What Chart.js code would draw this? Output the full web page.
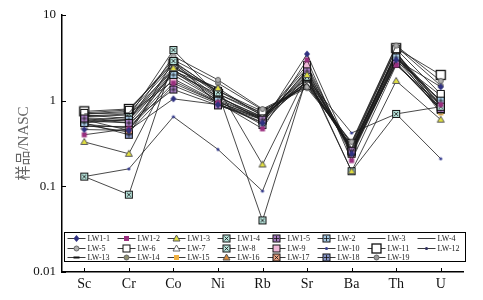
<!DOCTYPE html>
<html>
<head>
<meta charset="utf-8">
<script src="https://cdn.jsdelivr.net/npm/chart.js"></script>
<style>
  html, body { margin: 0; padding: 0; background: #fff; }
  #wrap { width: 483px; height: 300px; }
</style>
</head>
<body>
<div id="wrap"><canvas id="chartNasc" width="483" height="300"></canvas></div>
<script>
// Elementos normalizados a NASC
const elementos = ['Sc', 'Cr', 'Co', 'Ni', 'Rb', 'Sr', 'Ba', 'Th', 'U'];
const ticksY = [0.01, 0.1, 1, 10];

const muestras = ['LW1-1', 'LW1-2', 'LW1-3', 'LW1-4', 'LW1-5', 'LW-2', 'LW-3', 'LW-4',
                  'LW-5', 'LW-6', 'LW-7', 'LW-8', 'LW-9', 'LW-10', 'LW-11', 'LW-12',
                  'LW-13', 'LW-14', 'LW-15', 'LW-16', 'LW-17', 'LW-18', 'LW-19'];

// valores (Sc, Cr, Co, Ni, Rb, Sr, Ba, Th, U)
const lw1_1 = [0.46, 0.45, 1.05, 0.90, 0.55, 3.5, 0.24, 3.0, 1.45];
const lw1_2 = [0.40, 0.47, 1.6, 0.95, 0.47, 3.0, 0.20, 2.6, 0.90];
const lw1_3 = [0.33, 0.24, 2.4, 1.4, 0.18, 2.0, 0.15, 1.7, 0.60];
const lw1_4 = [0.13, 0.08, 2.9, 1.25, 0.04, 1.9, 0.15, 0.70, 0.85];
const lw1_5 = [0.62, 0.55, 1.35, 0.88, 0.60, 2.2, 0.26, 2.7, 0.80];
const lw_2  = [0.55, 0.60, 2.0, 1.0, 0.52, 2.0, 0.25, 3.2, 1.0];
const lw_3  = [0.70, 0.72, 2.6, 1.1, 0.65, 1.8, 0.28, 3.6, 0.95];
const lw_4  = [0.65, 0.68, 2.3, 1.05, 0.62, 1.6, 0.27, 3.4, 0.88];
const lw_5  = [0.60, 0.58, 3.3, 1.75, 0.80, 1.45, 0.33, 4.4, 1.7];
const lw_6  = [0.72, 0.78, 2.8, 1.3, 0.75, 1.5, 0.30, 4.0, 1.2];
const lw_7  = [0.50, 0.50, 2.1, 1.2, 0.68, 1.55, 0.29, 3.5, 0.90];
const lw_8  = [0.57, 0.65, 3.9, 1.15, 0.58, 1.7, 0.27, 3.1, 1.0];
const lw_9  = [0.66, 0.70, 1.7, 0.95, 0.63, 2.6, 0.24, 2.9, 1.15];
const lw_10 = [0.13, 0.16, 0.65, 0.27, 0.088, 1.8, 0.42, 0.70, 0.21];
const lw_11 = [0.75, 0.80, 2.7, 1.2, 0.72, 1.8, 0.31, 4.1, 2.0];
const lw_12 = [0.52, 0.43, 1.5, 0.92, 0.56, 2.3, 0.23, 2.8, 0.78];
const lw_13 = [0.53, 0.48, 1.8, 0.97, 0.60, 2.1, 0.25, 3.0, 0.82];
const lw_14 = [0.58, 0.55, 2.2, 1.4, 0.66, 1.65, 0.28, 3.7, 0.75];
const lw_15 = [0.68, 0.62, 2.45, 1.3, 0.70, 1.65, 0.29, 3.3, 0.72];
const lw_16 = [0.63, 0.60, 2.3, 1.1, 0.64, 1.7, 0.27, 3.4, 0.80];
const lw_17 = [0.60, 0.45, 2.2, 1.0, 0.64, 2.4, 0.26, 3.6, 0.85];
const lw_18 = [0.55, 0.40, 2.9, 0.90, 0.62, 2.0, 0.26, 2.7, 0.78];
const lw_19 = [0.70, 0.75, 3.0, 1.6, 0.78, 1.4, 0.32, 4.3, 1.5];

const valores = [lw1_1, lw1_2, lw1_3, lw1_4, lw1_5, lw_2, lw_3, lw_4, lw_5, lw_6, lw_7, lw_8,
                 lw_9, lw_10, lw_11, lw_12, lw_13, lw_14, lw_15, lw_16, lw_17, lw_18, lw_19];

// tipo de marcador y color para cada muestra
const marcadores = ['diamond', 'square', 'triangle', 'boxX', 'boxPlus', 'boxPlus', 'none', 'none',
                    'circle', 'box', 'triOpen', 'boxX', 'boxFill', 'dot', 'bigBox', 'dot',
                    'dash', 'circle', 'square', 'triangle', 'boxX', 'boxPlus', 'circle'];
const coloresMarcador = ['#2f3180', '#9a2f7e', '#e2e040', '#b8e4dc', '#a67cc0', '#a8cbe6', '#000', '#000',
                         '#b0b0b0', '#ffffff', '#bbbbbb', '#b8e4dc', '#f0b8d8', '#3a4090', '#ffffff', '#303060',
                         '#111111', '#8e8e6e', '#f0b040', '#d88a3a', '#e8a080', '#8896c8', '#9a9a9a'];

// Función para dibujar un marcador
function dibujarMarcador(g, tipo, color, x, y) {
    g.save();
    g.lineWidth = 1;
    g.strokeStyle = '#111';
    g.fillStyle = color;
    if (tipo === 'diamond') {
        g.beginPath();
        g.moveTo(x, y - 3.5); g.lineTo(x + 3, y); g.lineTo(x, y + 3.5); g.lineTo(x - 3, y);
        g.closePath(); g.fill();
    } else if (tipo === 'square') {
        g.fillRect(x - 2.5, y - 2.5, 5, 5);
    } else if (tipo === 'triangle' || tipo === 'triOpen') {
        g.beginPath();
        g.moveTo(x, y - 3.5); g.lineTo(x + 3.5, y + 2.5); g.lineTo(x - 3.5, y + 2.5);
        g.closePath();
        if (tipo === 'triangle') { g.fill(); g.strokeStyle = '#555'; g.stroke(); }
        else { g.fillStyle = '#fff'; g.fill(); g.strokeStyle = '#666'; g.stroke(); }
    } else if (tipo === 'boxX' || tipo === 'boxPlus' || tipo === 'box' || tipo === 'boxFill') {
        g.fillRect(x - 3.5, y - 3.5, 7, 7);
        g.strokeRect(x - 3.5, y - 3.5, 7, 7);
        g.beginPath();
        if (tipo === 'boxX') {
            g.moveTo(x - 2, y - 2); g.lineTo(x + 2, y + 2);
            g.moveTo(x + 2, y - 2); g.lineTo(x - 2, y + 2);
        } else if (tipo === 'boxPlus') {
            g.moveTo(x, y - 2.5); g.lineTo(x, y + 2.5);
            g.moveTo(x - 2.5, y); g.lineTo(x + 2.5, y);
        }
        g.lineWidth = 0.8;
        g.stroke();
    } else if (tipo === 'bigBox') {
        g.fillRect(x - 4.5, y - 4.5, 9, 9);
        g.lineWidth = 1.3;
        g.strokeRect(x - 4.5, y - 4.5, 9, 9);
    } else if (tipo === 'circle') {
        g.beginPath(); g.arc(x, y, 2.5, 0, Math.PI * 2);
        g.fill(); g.strokeStyle = '#666'; g.stroke();
    } else if (tipo === 'dot') {
        g.beginPath(); g.arc(x, y, 1.6, 0, Math.PI * 2); g.fill();
    } else if (tipo === 'dash') {
        g.fillRect(x - 3, y - 1, 6, 2);
    }
    g.restore();
}

// Crear imagen de marcador para pointStyle
function crearMarcador(tipo, color) {
    if (tipo === 'none') return false;
    const c = document.createElement('canvas');
    c.width = 12; c.height = 12;
    dibujarMarcador(c.getContext('2d'), tipo, color, 6, 6);
    return c;
}

// Plugin: marcas de eje hacia dentro y leyenda dentro del área
const pluginEjes = {
    id: 'ejesLeyenda',
    afterDraw(chart) {
        const ctx = chart.ctx;
        const ca = chart.chartArea;
        const sx = chart.scales.x, sy = chart.scales.y;
        ctx.save();
        ctx.strokeStyle = '#000';
        ctx.lineWidth = 1;
        ctx.beginPath();
        ticksY.forEach(v => {
            const y = Math.round(sy.getPixelForValue(v)) + 0.5;
            ctx.moveTo(ca.left, y); ctx.lineTo(ca.left + 4, y);
        });
        elementos.forEach((e, i) => {
            const x = Math.round(sx.getPixelForValue(i)) + 0.5;
            ctx.moveTo(x, ca.bottom); ctx.lineTo(x, ca.bottom - 4);
        });
        ctx.stroke();

        // leyenda
        const x0 = ca.left + 2.5, y0 = ca.bottom - 39.5;
        const ancho = ca.right - ca.left, alto = 29;
        ctx.fillStyle = '#fff';
        ctx.fillRect(x0, y0, ancho, alto);
        ctx.lineWidth = 1;
        ctx.strokeRect(x0, y0, ancho, alto);
        ctx.font = '8px "Liberation Serif", serif';
        ctx.textBaseline = 'middle';
        muestras.forEach((m, i) => {
            const col = i % 8, fila = Math.floor(i / 8);
            const x = x0 + 3 + col * 50;
            const y = Math.round(y0 + 5.5 + fila * 9.5) + 0.5;
            ctx.strokeStyle = '#222';
            ctx.lineWidth = 0.9;
            ctx.beginPath(); ctx.moveTo(x, y); ctx.lineTo(x + 18, y); ctx.stroke();
            dibujarMarcador(ctx, marcadores[i], coloresMarcador[i], x + 9, y);
            ctx.fillStyle = '#222';
            ctx.fillText(m, x + 20, y + 0.5);
        });
        ctx.restore();
    }
};

// Función para crear el gráfico
function crearGrafico() {
    const ctx = document.getElementById('chartNasc').getContext('2d');
    new Chart(ctx, {
        type: 'line',
        data: {
            labels: elementos,
            datasets: muestras.map((m, i) => {
                const estilo = crearMarcador(marcadores[i], coloresMarcador[i]);
                return {
                    label: m,
                    data: valores[i],
                    borderColor: '#1a1a1a',
                    borderWidth: 0.8,
                    pointStyle: estilo,
                    pointRadius: estilo ? 4 : 0,
                    pointHoverRadius: estilo ? 4 : 0,
                    tension: 0,
                    fill: false
                };
            })
        },
        options: {
            responsive: false,
            animation: false,
            layout: { padding: { left: 0, top: 15, right: 20, bottom: 0 } },
            plugins: {
                legend: { display: false },
                tooltip: { enabled: false }
            },
            scales: {
                x: {
                    offset: true,
                    grid: { display: true, drawOnChartArea: false, drawTicks: false },
                    border: { display: true, color: '#000', width: 1.5 },
                    ticks: {
                        color: '#111',
                        padding: 4,
                        font: { family: '"Liberation Serif", serif', size: 14 }
                    },
                    afterFit: s => { s.height = 28; }
                },
                y: {
                    type: 'logarithmic',
                    min: 0.01,
                    max: 10,
                    afterBuildTicks: s => { s.ticks = ticksY.map(v => ({ value: v })); },
                    grid: { display: true, drawOnChartArea: false, drawTicks: false },
                    border: { display: true, color: '#000', width: 1.5 },
                    ticks: {
                        color: '#111',
                        padding: 6,
                        font: { family: '"Liberation Serif", serif', size: 13 }
                        ,
                        callback: v => String(v)
                    },
                    title: {
                        display: true,
                        text: '样品/NASC',
                        color: '#666',
                        padding: { top: 15, bottom: 0 },
                        font: { family: '"Liberation Serif", "Noto Sans CJK SC", serif', size: 15 }
                    },
                    afterFit: s => { s.width = 62; }
                }
            }
        },
        plugins: [pluginEjes]
    });
}

crearGrafico();
</script>
</body>
</html>
